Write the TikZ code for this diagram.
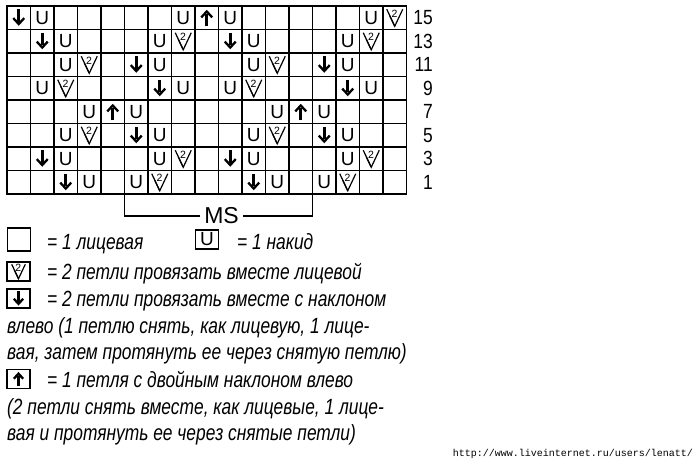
\documentclass[tikz,border=0pt]{standalone}
\usepackage{fontspec}
\setmainfont{Liberation Sans}
\newfontfamily\legfont[FakeStretch=0.79]{Liberation Sans}
\newfontfamily\numfont[FakeStretch=0.85]{Liberation Sans}
\newfontfamily\urlfont{Liberation Mono}
\begin{document}
\begin{tikzpicture}[x=1pt,y=-1pt,
  gridline/.style={line width=1.2pt, line cap=rect},
  keybox/.style={draw, line width=1.2pt},
  legtext/.style={font=\legfont\itshape\fontsize{22}{26}\selectfont, anchor=base west, inner sep=0pt},
  rowlab/.style={font=\numfont\fontsize{20.5}{22}\selectfont, anchor=base east, inner sep=0pt},
  symu/.pic={\node[font=\fontsize{19}{20}\selectfont, inner sep=0pt] (-u) {U};},
  symd/.pic={\draw[line width=2.6pt] (0,-8.5) -- (0,4);
             \draw[line width=2.3pt, line join=miter, miter limit=10] (-5.5,0.3) -- (0,6.3) -- (5.5,0.3);},
  syma/.pic={\draw[line width=2.6pt] (0,8.5) -- (0,-4);
             \draw[line width=2.3pt, line join=miter, miter limit=10] (-5.5,-0.3) -- (0,-6.3) -- (5.5,-0.3);},
  symk/.pic={\draw[line width=1.2pt, line join=miter] (-8,-8.5) -- (0,8.5) -- (8,-8.5);
             \draw[line width=1.2pt] (-5,-2) -- (-0.3,8);
             \node[font=\fontsize{10.5}{10}\selectfont, inner sep=0pt] (-two) at (-0.3,-4.3) {2};}
]
\useasboundingbox (0,0) rectangle (699,464);

% grid
\foreach \i in {0,...,17} { \draw[gridline] ({7+23.5*\i},6) -- ({7+23.5*\i},194); }
\foreach \j in {0,...,8} { \draw[gridline] (7,{6+23.5*\j}) -- (406.5,{6+23.5*\j}); }

% symbols: row index (0 = top) / column (1..17) / symbol
\foreach \r/\c/\s in {
  0/1/d,0/2/u,0/8/u,0/9/a,0/10/u,0/16/u,0/17/k,
  1/2/d,1/3/u,1/7/u,1/8/k,1/10/d,1/11/u,1/15/u,1/16/k,
  2/3/u,2/4/k,2/6/d,2/7/u,2/11/u,2/12/k,2/14/d,2/15/u,
  3/2/u,3/3/k,3/7/d,3/8/u,3/10/u,3/11/k,3/15/d,3/16/u,
  4/4/u,4/5/a,4/6/u,4/12/u,4/13/a,4/14/u,
  5/3/u,5/4/k,5/6/d,5/7/u,5/11/u,5/12/k,5/14/d,5/15/u,
  6/2/d,6/3/u,6/7/u,6/8/k,6/10/d,6/11/u,6/15/u,6/16/k,
  7/3/d,7/4/u,7/6/u,7/7/k,7/11/d,7/12/u,7/14/u,7/15/k}
  { \pic (p\r-\c) at ({7+23.5*(\c-0.5)},{6+23.5*(\r+0.5)}) {sym\s}; }

% row numbers
\foreach \r/\n in {0/15,1/13,2/11,3/9,4/7,5/5,6/3,7/1}
  { \node[rowlab] (row\n) at (433,{6+23.5*(\r+0.5)+7.2}) {\n}; }

% MS bracket
\coordinate (msl) at (124.5,194);
\coordinate (msr) at (312.5,194);
\node[font=\fontsize{23}{24}\selectfont, inner xsep=4pt, inner ysep=0pt] (ms) at (221.5,216) {MS};
\draw[line width=1.2pt] (msl) |- (ms.west);
\draw[line width=1.2pt] (msr) |- (ms.east);

% legend
\node[keybox, minimum width=23.5pt, minimum height=23pt, inner sep=0pt] (k1) at (19,239.5) {};
\node[legtext] (t1) at (47,249) {= 1 лицевая};
\node[keybox, minimum width=23.5pt, minimum height=19pt, inner sep=0pt] (k2) at (207,239.5) {};
\pic[scale=0.9] (k2s) at (k2.center) {symu};
\node[legtext] (t2) at (237,249) {= 1 накид};

\node[keybox, minimum width=23pt, minimum height=19pt, inner sep=0pt] (k3) at (18.5,271.5) {};
\pic[scale=0.85] (k3s) at (k3.center) {symk};
\node[legtext] (t3) at (47,279) {= 2 петли провязать вместе лицевой};

\node[keybox, minimum width=23pt, minimum height=19pt, inner sep=0pt] (k4) at (18.5,298.5) {};
\pic[scale=0.85] (k4s) at (k4.center) {symd};
\node[legtext] (t4) at (47,306) {= 2 петли провязать вместе с наклоном};
\node[legtext] (t5) at (7,333) {влево (1 петлю снять, как лицевую, 1 лице-};
\node[legtext] (t6) at (7,359) {вая, затем протянуть ее через снятую петлю)};

\node[keybox, minimum width=23pt, minimum height=19pt, inner sep=0pt] (k5) at (18.5,379) {};
\pic[scale=0.85] (k5s) at (k5.center) {syma};
\node[legtext] (t7) at (47,387) {= 1 петля с двойным наклоном влево};
\node[legtext] (t8) at (7,414) {(2 петли снять вместе, как лицевые, 1 лице-};
\node[legtext] (t9) at (7,440) {вая и протянуть ее через снятые петли)};

\node[font=\urlfont\fontsize{10}{12}\selectfont, anchor=base east, inner sep=0pt] (url) at (693,456) {http://www.liveinternet.ru/users/lenatt/};
\end{tikzpicture}
\end{document}
